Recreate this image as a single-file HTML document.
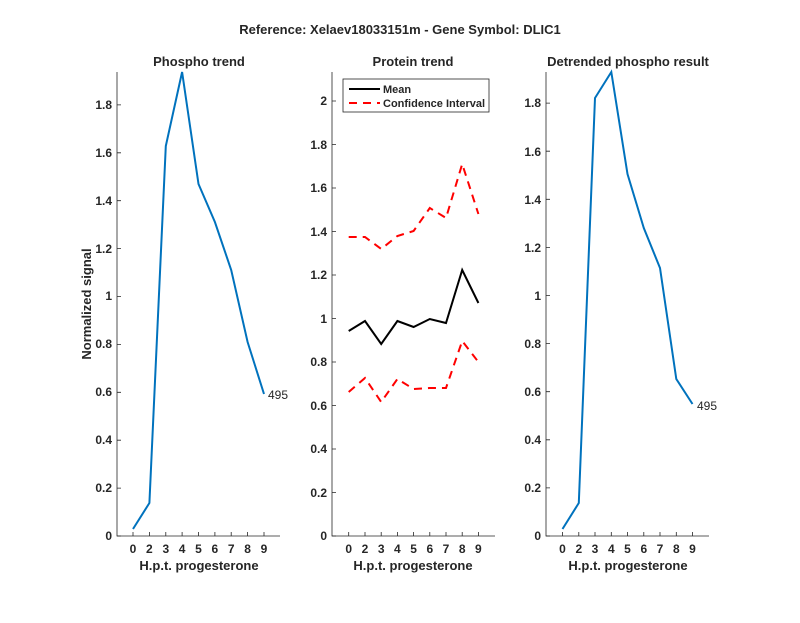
<!DOCTYPE html>
<html><head><meta charset="utf-8"><style>
body{margin:0;background:#fff}
svg text{font-family:"Liberation Sans",Arial,sans-serif;fill:#262626}
</style></head><body>
<svg width="800" height="618" viewBox="0 0 800 618" xmlns="http://www.w3.org/2000/svg">
<rect width="800" height="618" fill="#fff"/>
<text x="400" y="34" font-size="13" font-weight="bold" text-anchor="middle" fill="#000">Reference:  Xelaev18033151m - Gene Symbol:  DLIC1</text>

<!-- Panel 1 -->
<g stroke="#262626" stroke-width="0.8" fill="none">
<path d="M117,72 V536 H280"/>
<path d="M117,536h4M117,488.1h4M117,440.2h4M117,392.3h4M117,344.4h4M117,296.5h4M117,248.6h4M117,200.7h4M117,152.8h4M117,104.9h4"/>
<path d="M133,536v-4M149.4,536v-4M165.8,536v-4M182.1,536v-4M198.5,536v-4M214.9,536v-4M231.2,536v-4M247.6,536v-4M264,536v-4"/>
</g>
<g font-size="12" font-weight="bold" text-anchor="end">
<text x="112" y="540">0</text><text x="112" y="492">0.2</text><text x="112" y="444">0.4</text><text x="112" y="396">0.6</text><text x="112" y="348">0.8</text><text x="112" y="300">1</text><text x="112" y="253">1.2</text><text x="112" y="205">1.4</text><text x="112" y="157">1.6</text><text x="112" y="109">1.8</text>
</g>
<g font-size="12" font-weight="bold" text-anchor="middle">
<text x="133" y="553">0</text><text x="149.4" y="553">2</text><text x="165.8" y="553">3</text><text x="182.1" y="553">4</text><text x="198.5" y="553">5</text><text x="214.9" y="553">6</text><text x="231.2" y="553">7</text><text x="247.6" y="553">8</text><text x="264" y="553">9</text>
</g>
<text x="199" y="570" font-size="13" font-weight="bold" text-anchor="middle">H.p.t. progesterone</text>
<text x="199" y="66" font-size="13" font-weight="bold" text-anchor="middle" fill="#000">Phospho trend</text>
<text transform="translate(91,304) rotate(-90)" font-size="13" font-weight="bold" text-anchor="middle">Normalized signal</text>
<polyline fill="none" stroke="#0072BD" stroke-width="2" points="133,529 149.4,503 165.8,146 182.1,72 198.5,184 214.9,222 231.2,270 247.6,342 264,394"/>
<text x="268" y="399" font-size="12">495</text>

<!-- Panel 2 -->
<g stroke="#262626" stroke-width="0.8" fill="none">
<path d="M332,72 V536 H495"/>
<path d="M332,536h4M332,492.5h4M332,449h4M332,405.5h4M332,362h4M332,318.5h4M332,275h4M332,231.5h4M332,188h4M332,144.5h4M332,101h4"/>
<path d="M348.7,536v-4M365,536v-4M381.2,536v-4M397.4,536v-4M413.6,536v-4M429.8,536v-4M446,536v-4M462.2,536v-4M478.4,536v-4"/>
</g>
<g font-size="12" font-weight="bold" text-anchor="end">
<text x="327" y="540">0</text><text x="327" y="497">0.2</text><text x="327" y="453">0.4</text><text x="327" y="410">0.6</text><text x="327" y="366">0.8</text><text x="327" y="323">1</text><text x="327" y="279">1.2</text><text x="327" y="236">1.4</text><text x="327" y="192">1.6</text><text x="327" y="149">1.8</text><text x="327" y="105">2</text>
</g>
<g font-size="12" font-weight="bold" text-anchor="middle">
<text x="348.7" y="553">0</text><text x="365" y="553">2</text><text x="381.2" y="553">3</text><text x="397.4" y="553">4</text><text x="413.6" y="553">5</text><text x="429.8" y="553">6</text><text x="446" y="553">7</text><text x="462.2" y="553">8</text><text x="478.4" y="553">9</text>
</g>
<text x="413" y="570" font-size="13" font-weight="bold" text-anchor="middle">H.p.t. progesterone</text>
<text x="413" y="66" font-size="13" font-weight="bold" text-anchor="middle" fill="#000">Protein trend</text>
<polyline fill="none" stroke="#000" stroke-width="2" points="348.7,331 365,321 381.2,344 397.4,321 413.6,327 429.8,319 446,323 462.2,270 478.4,303"/>
<polyline fill="none" stroke="#f00" stroke-width="2" stroke-dasharray="8,6" points="348.7,237 365,237 381.2,249 397.4,236 413.6,231 429.8,208 446,218 462.2,164 478.4,214"/>
<polyline fill="none" stroke="#f00" stroke-width="2" stroke-dasharray="8,6" points="348.7,392 365,378 381.2,402 397.4,379 413.6,389 429.8,388 446,388 462.2,341 478.4,362"/>
<rect x="343" y="79" width="146" height="33" fill="#fff" stroke="#262626" stroke-width="0.8"/>
<line x1="349" y1="89" x2="380" y2="89" stroke="#000" stroke-width="2"/>
<line x1="349" y1="103" x2="380" y2="103" stroke="#f00" stroke-width="2" stroke-dasharray="8,6"/>
<text x="383" y="93" font-size="11" font-weight="bold" fill="#000">Mean</text>
<text x="383" y="107" font-size="11" font-weight="bold" fill="#000">Confidence Interval</text>

<!-- Panel 3 -->
<g stroke="#262626" stroke-width="0.8" fill="none">
<path d="M546,72 V536 H709"/>
<path d="M546,536h4M546,487.9h4M546,439.8h4M546,391.7h4M546,343.6h4M546,295.5h4M546,247.4h4M546,199.3h4M546,151.2h4M546,103.1h4"/>
<path d="M562.5,536v-4M578.8,536v-4M595,536v-4M611.3,536v-4M627.5,536v-4M643.8,536v-4M660,536v-4M676.3,536v-4M692.5,536v-4"/>
</g>
<g font-size="12" font-weight="bold" text-anchor="end">
<text x="541" y="540">0</text><text x="541" y="492">0.2</text><text x="541" y="444">0.4</text><text x="541" y="396">0.6</text><text x="541" y="348">0.8</text><text x="541" y="300">1</text><text x="541" y="252">1.2</text><text x="541" y="204">1.4</text><text x="541" y="156">1.6</text><text x="541" y="107">1.8</text>
</g>
<g font-size="12" font-weight="bold" text-anchor="middle">
<text x="562.5" y="553">0</text><text x="578.8" y="553">2</text><text x="595" y="553">3</text><text x="611.3" y="553">4</text><text x="627.5" y="553">5</text><text x="643.8" y="553">6</text><text x="660" y="553">7</text><text x="676.3" y="553">8</text><text x="692.5" y="553">9</text>
</g>
<text x="628" y="570" font-size="13" font-weight="bold" text-anchor="middle">H.p.t. progesterone</text>
<text x="628" y="66" font-size="13" font-weight="bold" text-anchor="middle" fill="#000">Detrended phospho result</text>
<polyline fill="none" stroke="#0072BD" stroke-width="2" points="562.5,529 578.8,503 595,98 611.3,72 627.5,174 643.8,228 660,268 676.3,379 692.5,404"/>
<text x="697" y="410" font-size="12">495</text>
</svg>
</body></html>
